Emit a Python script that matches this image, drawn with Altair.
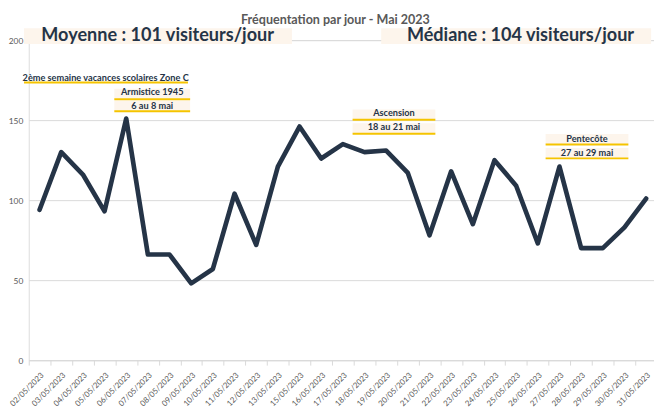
import altair as alt
import pandas as pd

# ---- data ----
dates = ["02/05/2023", "03/05/2023", "04/05/2023", "05/05/2023", "06/05/2023",
         "07/05/2023", "08/05/2023", "09/05/2023", "10/05/2023", "11/05/2023",
         "12/05/2023", "13/05/2023", "15/05/2023", "16/05/2023", "17/05/2023",
         "18/05/2023", "19/05/2023", "20/05/2023", "21/05/2023", "22/05/2023",
         "23/05/2023", "24/05/2023", "25/05/2023", "26/05/2023", "27/05/2023",
         "28/05/2023", "29/05/2023", "30/05/2023", "31/05/2023"]
visitors = [94, 130, 116, 93, 151, 66, 66, 48, 57, 104,
            72, 121, 146, 126, 135, 130, 131, 117, 78, 118,
            85, 125, 109, 73, 121, 70, 70, 83, 101]
y_ticks = [0, 50, 100, 150, 200]

# annotation anchors (x in category-band units, y in visitor units)
box_x = [-0.22, 16.27, 3.95, 3.95, 14.95, 14.95, 23.86, 23.86]
box_x2 = [12.15, 28.73, 7.45, 7.45, 18.77, 18.77, 27.68, 27.68]
box_y = [197.5, 197.5, 163.1, 155.6, 150.2, 141.5, 134.8, 126.1]
box_y2 = [207.4, 207.4, 169.6, 162.1, 156.7, 148.0, 141.3, 132.6]

rule_x = [-0.22, 3.95, 3.95, 14.95, 14.95, 23.86, 23.86]
rule_x2 = [7.35, 7.45, 7.45, 18.77, 18.77, 27.68, 27.68]
rule_y = [173.5, 163.1, 155.6, 150.2, 141.5, 134.8, 126.1]

big_text = ["Moyenne : 101 visiteurs/jour", "Médiane : 104 visiteurs/jour"]
big_x = [5.95, 22.7]
big_y = [202.3, 202.3]

small_text = ["2ème semaine vacances scolaires Zone C", "Armistice 1945", "6 au 8 mai",
              "Ascension", "18 au 21 mai", "Pentecôte", "27 au 29 mai"]
small_x = [3.55, 5.7, 5.7, 16.86, 16.86, 25.77, 25.77]
small_y = [176.6, 167.4, 159.0, 154.2, 145.4, 138.1, 129.5]

# ---- styling ----
NAVY = "#253447"
GOLD = "#F5C400"
PEACH = "#FDF5EC"
GRAY = "#595959"
GRID = "#D9D9D9"
FONT = "Lato"
W, H = 633, 324
RANGE = [0, 636]

df = pd.DataFrame({"date": dates, "visiteurs": visitors})
boxes = pd.DataFrame({"x": box_x, "x2": box_x2, "y": box_y, "y2": box_y2})
rules = pd.DataFrame({"x": rule_x, "x2": rule_x2, "y": rule_y})
bigs = pd.DataFrame({"x": big_x, "y": big_y, "t": big_text})
smalls = pd.DataFrame({"x": small_x, "y": small_y, "t": small_text})

yscale = alt.Scale(domain=[0, 200], nice=False)
ascale = alt.Scale(domain=[0, 29], range=RANGE, nice=False, zero=False)
yaxis = alt.Axis(title=None, values=y_ticks, ticks=False, domain=False, grid=True,
                 labelFontSize=8.5, labelColor=GRAY, labelFont=FONT,
                 labelPadding=6, gridColor=GRID, gridWidth=1)

line = alt.Chart(df).mark_line(
    color=NAVY, strokeWidth=4.7, strokeCap="round", strokeJoin="round"
).encode(
    x=alt.X("date:N", sort=dates, bandPosition=0.5,
            scale=alt.Scale(type="band", paddingInner=0, paddingOuter=0, range=RANGE),
            axis=alt.Axis(title=None, tickBand="extent", labelAngle=-45,
                          labelFontSize=8, labelColor=GRAY, labelFont=FONT,
                          labelFontWeight="normal", labelPadding=6, labelOverlap=False,
                          tickSize=5, tickColor=GRID, domainColor=GRID, grid=False)),
    y=alt.Y("visiteurs:Q", scale=yscale, axis=yaxis),
)

box_layer = alt.Chart(boxes).mark_rect(color=PEACH).encode(
    x=alt.X("x:Q", scale=ascale, axis=None), x2="x2:Q",
    y=alt.Y("y:Q", scale=yscale, axis=yaxis), y2="y2:Q",
)

rule_layer = alt.Chart(rules).mark_rule(color=GOLD, strokeWidth=2).encode(
    x=alt.X("x:Q", scale=ascale, axis=None), x2="x2:Q",
    y=alt.Y("y:Q", scale=yscale, axis=yaxis),
)

big_layer = alt.Chart(bigs).mark_text(
    font=FONT, fontSize=18.3, fontWeight="bold", color=NAVY, baseline="middle"
).encode(
    x=alt.X("x:Q", scale=ascale, axis=None),
    y=alt.Y("y:Q", scale=yscale, axis=yaxis),
    text="t:N",
)

small_layer = alt.Chart(smalls).mark_text(
    font=FONT, fontSize=9.3, fontWeight="bold", color=NAVY, baseline="middle"
).encode(
    x=alt.X("x:Q", scale=ascale, axis=None),
    y=alt.Y("y:Q", scale=yscale, axis=yaxis),
    text="t:N",
)

chart = alt.layer(box_layer, rule_layer, big_layer, small_layer, line).resolve_scale(
    x="independent"
).properties(
    width=W, height=H,
    title=alt.TitleParams("Fréquentation par jour - Mai 2023", font=FONT, fontSize=12.7,
                          fontWeight="bold", color=GRAY, anchor="middle", frame="group",
                          dx=-6, offset=0),
    autosize=alt.AutoSizeParams(type="none"),
    padding={"left": 21, "top": 30, "right": 0, "bottom": 52},
).configure_view(strokeWidth=0).configure(background="white")

chart.save("out.html", embed_options={"renderer": "svg", "actions": False})
